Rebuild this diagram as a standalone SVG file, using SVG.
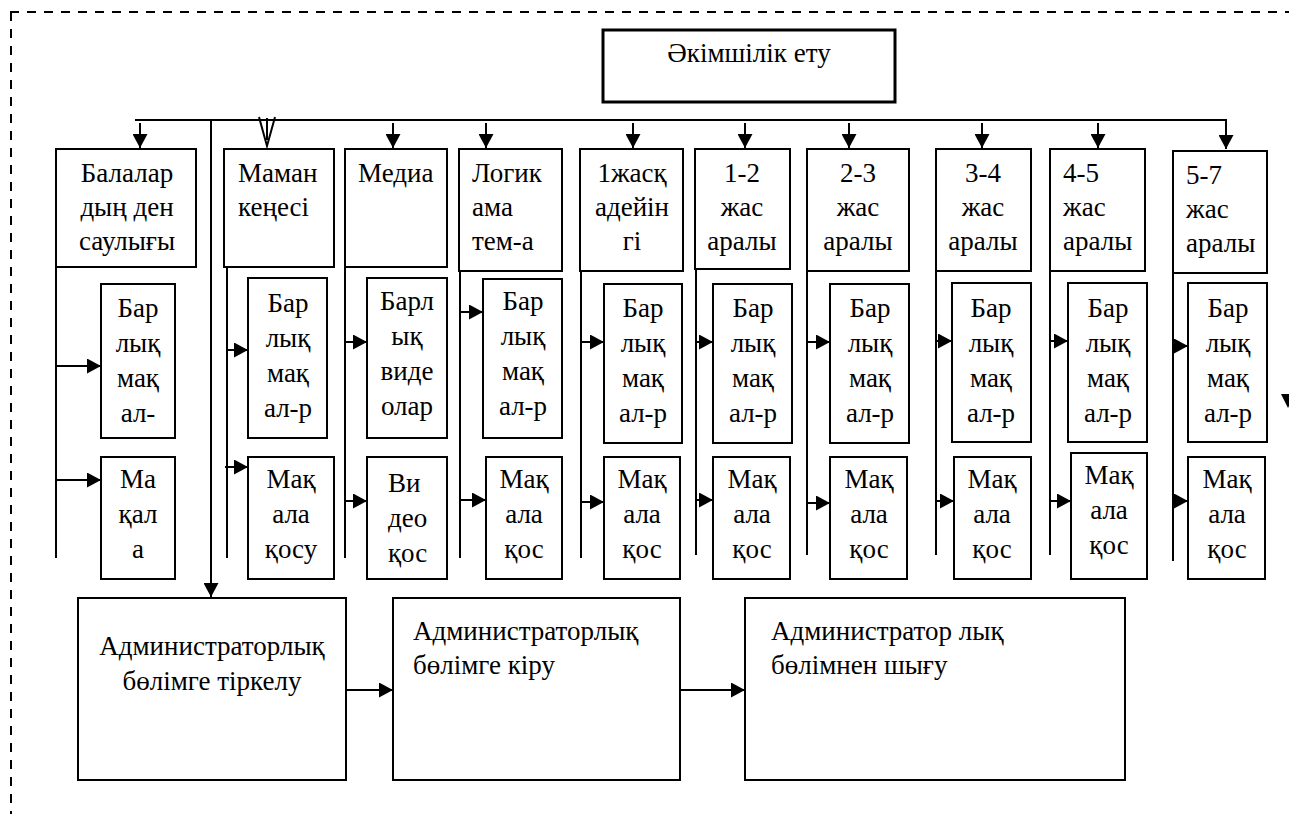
<svg xmlns="http://www.w3.org/2000/svg" width="1289" height="814" viewBox="0 0 1289 814">
  <style>
    .box { fill: #fff; stroke: #000; stroke-width: 2; }
    .main { fill: #fff; stroke: #000; stroke-width: 3; }
    .ln { fill: none; stroke: #000; stroke-width: 2; }
    .frame { fill: none; stroke: #000; stroke-width: 2; stroke-dasharray: 9 8; }
    text { font-family: "Liberation Serif", "Times New Roman", "DejaVu Serif", serif; font-size: 27px; fill: #000; }
    .c { text-anchor: middle; }
  </style>
  <defs>
    <marker id="arr" viewBox="0 0 14 15" refX="14" refY="7.5" markerWidth="14" markerHeight="15" markerUnits="userSpaceOnUse" orient="auto">
      <path d="M0,0 L14,7.5 L0,15 z" fill="#000"/>
    </marker>
  </defs>

  <!-- dashed outer frame -->
  <path class="frame" d="M10,12 H1289 M11,12 V814"/>

  <!-- top node -->
  <g id="admin">
    <rect class="main" x="603" y="30" width="292" height="72"/>
    <text class="c" x="749" y="62">Әкімшілік ету</text>
  </g>

  <!-- section headers -->
  <g id="h1"><rect class="box" x="56" y="149" width="140" height="118"/>
    <text class="c" x="127" y="182">Балалар</text><text class="c" x="127" y="216">дың ден</text><text class="c" x="127" y="250">саулығы</text></g>
  <g id="h2"><rect class="box" x="224" y="149" width="110" height="118"/>
    <text x="238" y="182">Маман</text><text x="238" y="216">кеңесі</text></g>
  <g id="h3"><rect class="box" x="345" y="149" width="102" height="118"/>
    <text x="358" y="182">Медиа</text></g>
  <g id="h4"><rect class="box" x="459" y="149" width="103" height="122"/>
    <text x="472" y="182">Логик</text><text x="472" y="216">ама</text><text x="472" y="250">тем-а</text></g>
  <g id="h5"><rect class="box" x="580" y="149" width="103" height="122"/>
    <text class="c" x="632" y="182">1жасқ</text><text class="c" x="632" y="216">адейін</text><text class="c" x="632" y="250">гі</text></g>
  <g id="h6"><rect class="box" x="695" y="149" width="95" height="120"/>
    <text class="c" x="742" y="182">1-2</text><text class="c" x="742" y="216">жас</text><text class="c" x="742" y="250">аралы</text></g>
  <g id="h7"><rect class="box" x="807" y="149" width="102" height="122"/>
    <text class="c" x="858" y="182">2-3</text><text class="c" x="858" y="216">жас</text><text class="c" x="858" y="250">аралы</text></g>
  <g id="h8"><rect class="box" x="936" y="149" width="95" height="122"/>
    <text class="c" x="983" y="182">3-4</text><text class="c" x="983" y="216">жас</text><text class="c" x="983" y="250">аралы</text></g>
  <g id="h9"><rect class="box" x="1050" y="149" width="95" height="122"/>
    <text x="1063" y="182">4-5</text><text x="1063" y="216">жас</text><text x="1063" y="250">аралы</text></g>
  <g id="h10"><rect class="box" x="1173" y="151" width="94" height="122"/>
    <text x="1186" y="184">5-7</text><text x="1186" y="218">жас</text><text x="1186" y="252">аралы</text></g>

  <!-- list / add nodes per section -->
  <g id="l1"><rect class="box" x="101" y="284" width="74" height="154"/>
    <text class="c" x="138" y="317">Бар</text><text class="c" x="138" y="352">лық</text><text class="c" x="138" y="387">мақ</text><text class="c" x="138" y="422">ал-</text></g>
  <g id="a1"><rect class="box" x="101" y="457" width="74" height="122"/>
    <text class="c" x="138" y="488">Ма</text><text class="c" x="138" y="523">қал</text><text class="c" x="138" y="558">а</text></g>

  <g id="l2"><rect class="box" x="248" y="278" width="79" height="160"/>
    <text class="c" x="288" y="312">Бар</text><text class="c" x="288" y="347">лық</text><text class="c" x="288" y="382">мақ</text><text class="c" x="288" y="417">ал-р</text></g>
  <g id="a2"><rect class="box" x="248" y="457" width="86" height="122"/>
    <text class="c" x="291" y="488">Мақ</text><text class="c" x="291" y="523">ала</text><text class="c" x="291" y="558">қосу</text></g>

  <g id="l3"><rect class="box" x="367" y="278" width="80" height="160"/>
    <text class="c" x="407" y="310">Барл</text><text class="c" x="407" y="345">ық</text><text class="c" x="407" y="380">виде</text><text class="c" x="407" y="415">олар</text></g>
  <g id="a3"><rect class="box" x="367" y="457" width="80" height="122"/>
    <text x="388" y="492">Ви</text><text x="388" y="527">део</text><text x="388" y="562">қос</text></g>

  <g id="l4"><rect class="box" x="483" y="279" width="79" height="159"/>
    <text class="c" x="523" y="310">Бар</text><text class="c" x="523" y="345">лық</text><text class="c" x="523" y="380">мақ</text><text class="c" x="523" y="415">ал-р</text></g>
  <g id="a4"><rect class="box" x="486" y="457" width="76" height="122"/>
    <text class="c" x="524" y="488">Мақ</text><text class="c" x="524" y="523">ала</text><text class="c" x="524" y="558">қос</text></g>

  <g id="l5"><rect class="box" x="604" y="284" width="78" height="159"/>
    <text class="c" x="643" y="317">Бар</text><text class="c" x="643" y="352">лық</text><text class="c" x="643" y="387">мақ</text><text class="c" x="643" y="422">ал-р</text></g>
  <g id="a5"><rect class="box" x="604" y="457" width="76" height="122"/>
    <text class="c" x="642" y="488">Мақ</text><text class="c" x="642" y="523">ала</text><text class="c" x="642" y="558">қос</text></g>

  <g id="l6"><rect class="box" x="713" y="284" width="79" height="159"/>
    <text class="c" x="753" y="317">Бар</text><text class="c" x="753" y="352">лық</text><text class="c" x="753" y="387">мақ</text><text class="c" x="753" y="422">ал-р</text></g>
  <g id="a6"><rect class="box" x="713" y="457" width="77" height="122"/>
    <text class="c" x="752" y="488">Мақ</text><text class="c" x="752" y="523">ала</text><text class="c" x="752" y="558">қос</text></g>

  <g id="l7"><rect class="box" x="830" y="284" width="79" height="159"/>
    <text class="c" x="870" y="317">Бар</text><text class="c" x="870" y="352">лық</text><text class="c" x="870" y="387">мақ</text><text class="c" x="870" y="422">ал-р</text></g>
  <g id="a7"><rect class="box" x="830" y="457" width="77" height="122"/>
    <text class="c" x="869" y="488">Мақ</text><text class="c" x="869" y="523">ала</text><text class="c" x="869" y="558">қос</text></g>

  <g id="l8"><rect class="box" x="952" y="283" width="79" height="159"/>
    <text class="c" x="991" y="317">Бар</text><text class="c" x="991" y="352">лық</text><text class="c" x="991" y="387">мақ</text><text class="c" x="991" y="422">ал-р</text></g>
  <g id="a8"><rect class="box" x="954" y="457" width="77" height="122"/>
    <text class="c" x="992" y="488">Мақ</text><text class="c" x="992" y="523">ала</text><text class="c" x="992" y="558">қос</text></g>

  <g id="l9"><rect class="box" x="1068" y="283" width="79" height="159"/>
    <text class="c" x="1108" y="317">Бар</text><text class="c" x="1108" y="352">лық</text><text class="c" x="1108" y="387">мақ</text><text class="c" x="1108" y="422">ал-р</text></g>
  <g id="a9"><rect class="box" x="1071" y="453" width="76" height="126"/>
    <text class="c" x="1109" y="484">Мақ</text><text class="c" x="1109" y="519">ала</text><text class="c" x="1109" y="554">қос</text></g>

  <g id="l10"><rect class="box" x="1188" y="283" width="79" height="159"/>
    <text class="c" x="1228" y="317">Бар</text><text class="c" x="1228" y="352">лық</text><text class="c" x="1228" y="387">мақ</text><text class="c" x="1228" y="422">ал-р</text></g>
  <g id="a10"><rect class="box" x="1188" y="457" width="77" height="122"/>
    <text class="c" x="1227" y="488">Мақ</text><text class="c" x="1227" y="523">ала</text><text class="c" x="1227" y="558">қос</text></g>

  <!-- admin section flow -->
  <g id="reg"><rect class="box" x="78" y="598" width="268" height="182"/>
    <text class="c" x="212" y="655">Администраторлық</text><text class="c" x="212" y="690">бөлімге тіркелу</text></g>
  <g id="login"><rect class="box" x="393" y="598" width="287" height="182"/>
    <text x="413" y="640">Администраторлық</text><text x="413" y="674">бөлімге кіру</text></g>
  <g id="logout"><rect class="box" x="745" y="598" width="380" height="182"/>
    <text x="771" y="640">Администратор лық</text><text x="771" y="674">бөлімнен шығу</text></g>

  <!-- connectors -->
  <g id="connectors">
    <!-- bus under the top node -->
    <path class="ln" d="M135,120 H1226 V149" marker-end="url(#arr)"/>
    <path class="ln" d="M140,123 V148" marker-end="url(#arr)"/>
    <path class="ln" d="M393,123 V148" marker-end="url(#arr)"/>
    <path class="ln" d="M486,123 V148" marker-end="url(#arr)"/>
    <path class="ln" d="M633,123 V148" marker-end="url(#arr)"/>
    <path class="ln" d="M745,123 V148" marker-end="url(#arr)"/>
    <path class="ln" d="M849,123 V148" marker-end="url(#arr)"/>
    <path class="ln" d="M982,123 V148" marker-end="url(#arr)"/>
    <path class="ln" d="M1098,123 V148" marker-end="url(#arr)"/>
    <!-- open head into the specialist section -->
    <path class="ln" d="M259,117 L267,146 L275,117 M267,118 V140"/>
    <!-- trunk down to the registration node -->
    <path class="ln" d="M211,120 V597" marker-end="url(#arr)"/>

    <!-- section spines and branches -->
    <path class="ln" d="M56,267 V558"/>
    <path class="ln" d="M56,366 H101" marker-end="url(#arr)"/>
    <path class="ln" d="M56,480 H101" marker-end="url(#arr)"/>

    <path class="ln" d="M227,267 V558"/>
    <path class="ln" d="M227,350 H248" marker-end="url(#arr)"/>
    <path class="ln" d="M225,467 H248" marker-end="url(#arr)"/>

    <path class="ln" d="M345,267 V558"/>
    <path class="ln" d="M345,342 H367" marker-end="url(#arr)"/>
    <path class="ln" d="M345,501 H367" marker-end="url(#arr)"/>

    <path class="ln" d="M460,271 V558"/>
    <path class="ln" d="M460,312 H483" marker-end="url(#arr)"/>
    <path class="ln" d="M460,500 H486" marker-end="url(#arr)"/>

    <path class="ln" d="M581,271 V558"/>
    <path class="ln" d="M581,342 H604" marker-end="url(#arr)"/>
    <path class="ln" d="M581,502 H604" marker-end="url(#arr)"/>

    <path class="ln" d="M696,269 V555"/>
    <path class="ln" d="M696,342 H713" marker-end="url(#arr)"/>
    <path class="ln" d="M696,500 H713" marker-end="url(#arr)"/>

    <path class="ln" d="M807,271 V555"/>
    <path class="ln" d="M807,342 H830" marker-end="url(#arr)"/>
    <path class="ln" d="M807,503 H830" marker-end="url(#arr)"/>

    <path class="ln" d="M936,271 V555"/>
    <path class="ln" d="M936,341 H952" marker-end="url(#arr)"/>
    <path class="ln" d="M936,501 H954" marker-end="url(#arr)"/>

    <path class="ln" d="M1050,271 V555"/>
    <path class="ln" d="M1050,341 H1068" marker-end="url(#arr)"/>
    <path class="ln" d="M1050,501 H1071" marker-end="url(#arr)"/>

    <path class="ln" d="M1173,273 V561"/>
    <path class="ln" d="M1173,346 H1188" marker-end="url(#arr)"/>
    <path class="ln" d="M1173,501 H1188" marker-end="url(#arr)"/>

    <!-- admin flow -->
    <path class="ln" d="M346,690 H393" marker-end="url(#arr)"/>
    <path class="ln" d="M680,690 H745" marker-end="url(#arr)"/>

    <!-- stray head at the right edge -->
    <path d="M1281,394 L1295,394 L1288,408 z" fill="#000"/>
  </g>
</svg>
